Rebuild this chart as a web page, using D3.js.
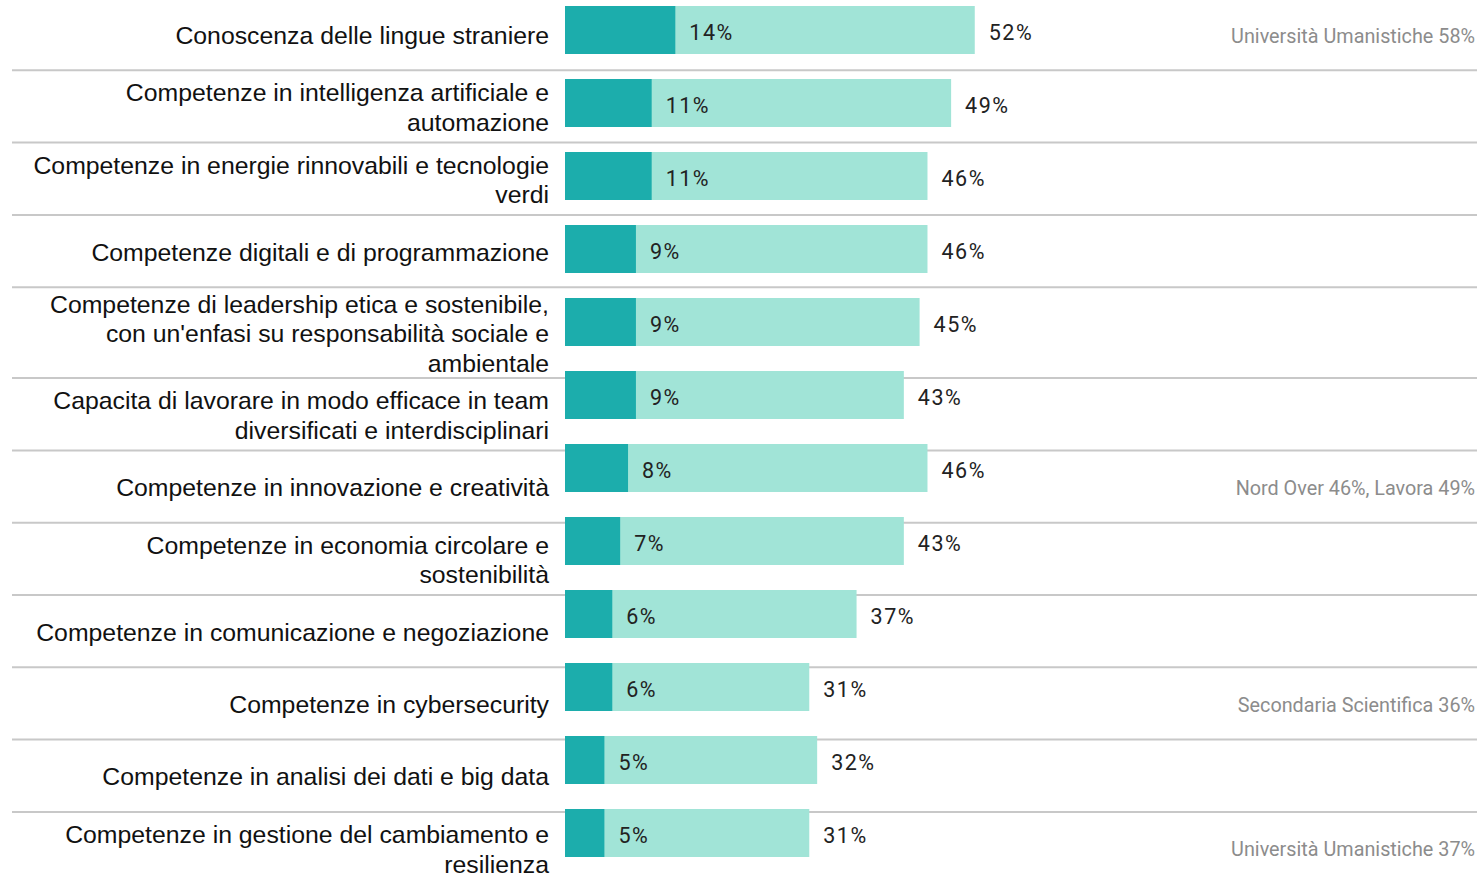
<!DOCTYPE html>
<html>
<head>
<meta charset="utf-8">
<script src="https://cdn.jsdelivr.net/npm/d3@7"></script>
<style>
  body { margin: 0; background: #fff; }
  svg { display: block; }
</style>
</head>
<body>
<div id="chart"></div>
<script>
var categories = [
  "Conoscenza delle lingue straniere",
  "Competenze in intelligenza artificiale e automazione",
  "Competenze in energie rinnovabili e tecnologie verdi",
  "Competenze digitali e di programmazione",
  "Competenze di leadership etica e sostenibile, con un'enfasi su responsabilità sociale e ambientale",
  "Capacita di lavorare in modo efficace in team diversificati e interdisciplinari",
  "Competenze in innovazione e creatività",
  "Competenze in economia circolare e sostenibilità",
  "Competenze in comunicazione e negoziazione",
  "Competenze in cybersecurity",
  "Competenze in analisi dei dati e big data",
  "Competenze in gestione del cambiamento e resilienza"
];
var firstValues = [14, 11, 11, 9, 9, 9, 8, 7, 6, 6, 5, 5];
var totalValues = [52, 49, 46, 46, 45, 43, 46, 43, 37, 31, 32, 31];
var noteRows = [0, 6, 9, 11];
var noteTexts = [
  "Università Umanistiche 58%",
  "Nord Over 46%, Lavora 49%",
  "Secondaria Scientifica 36%",
  "Università Umanistiche 37%"
];

var width = 1483, height = 880;
var darkColor = "#1cadac", lightColor = "#a1e4d7";
var labelFont = "'Liberation Sans', Arial, sans-serif";
var valueFont = "Roboto, 'Open Sans', sans-serif";
var labelSize = 24.8;

var svg = d3.select("#chart").append("svg")
  .attr("width", width)
  .attr("height", height);

var x = d3.scaleLinear().domain([0, 100]).range([565, 565 + 788]);
var y = d3.scaleBand()
  .domain(categories)
  .range([-6.5, 869.5])
  .paddingInner(25 / 73)
  .paddingOuter(12.5 / 73);

// wrap labels to a max width, measured with a hidden text node
var measure = svg.append("text")
  .attr("font-family", labelFont)
  .attr("font-size", labelSize)
  .attr("visibility", "hidden");

function wrap(str, maxWidth) {
  var words = str.split(" "), lines = [], line = "";
  words.forEach(function(w) {
    var test = line ? line + " " + w : w;
    measure.text(test);
    if (line && measure.node().getComputedTextLength() > maxWidth) {
      lines.push(line);
      line = w;
    } else {
      line = test;
    }
  });
  lines.push(line);
  return lines;
}

var wrapped = categories.map(function(c) { return wrap(c, 525); });
measure.remove();

// label rows (like table rows) - taller when the text needs 3 lines
var rowBands = [], rowY = -2;
wrapped.forEach(function(lines) {
  var h = lines.length > 2 ? lines.length * 30.3 : 72.3;
  rowBands.push({ y0: rowY, y1: rowY + h });
  rowY += h;
});

// separators
svg.append("g").selectAll("line")
  .data(rowBands.slice(0, -1))
  .enter().append("line")
  .attr("x1", 12)
  .attr("x2", 1477)
  .attr("y1", function(d) { return d.y1; })
  .attr("y2", function(d) { return d.y1; })
  .attr("stroke", "#c8c8c8")
  .attr("stroke-width", 2);

// bars
var bars = svg.append("g").selectAll("g")
  .data(categories)
  .enter().append("g");

bars.append("rect")
  .attr("x", x(0))
  .attr("y", function(d) { return y(d); })
  .attr("width", function(d, i) { return x(totalValues[i]) - x(0); })
  .attr("height", y.bandwidth())
  .attr("fill", lightColor);

bars.append("rect")
  .attr("x", x(0))
  .attr("y", function(d) { return y(d); })
  .attr("width", function(d, i) { return x(firstValues[i]) - x(0); })
  .attr("height", y.bandwidth())
  .attr("fill", darkColor);

bars.append("text")
  .attr("x", function(d, i) { return x(firstValues[i]) + 14; })
  .attr("y", function(d) { return y(d) + y.bandwidth() / 2 + 2; })
  .attr("dy", "0.35em")
  .attr("font-family", valueFont)
  .attr("font-size", 21.5)
  .attr("letter-spacing", 1.5)
  .attr("fill", "#222")
  .text(function(d, i) { return firstValues[i] + "%"; });

bars.append("text")
  .attr("x", function(d, i) { return x(totalValues[i]) + 14; })
  .attr("y", function(d) { return y(d) + y.bandwidth() / 2 + 2; })
  .attr("dy", "0.35em")
  .attr("font-family", valueFont)
  .attr("font-size", 21.5)
  .attr("letter-spacing", 1.5)
  .attr("fill", "#222")
  .text(function(d, i) { return totalValues[i] + "%"; });

// category labels
var labels = svg.append("g").selectAll("text")
  .data(wrapped)
  .enter().append("text")
  .attr("text-anchor", "end")
  .attr("font-family", labelFont)
  .attr("font-size", labelSize)
  .attr("fill", "#111");

labels.each(function(lines, i) {
  var mid = (rowBands[i].y0 + rowBands[i].y1) / 2 + 1;
  var first = mid - (lines.length - 1) * 29.6 / 2;
  d3.select(this).selectAll("tspan")
    .data(lines)
    .enter().append("tspan")
    .attr("x", 549)
    .attr("y", function(l, j) { return first + j * 29.6; })
    .attr("dy", "0.35em")
    .text(function(l) { return l; });
});

// side notes
svg.append("g").selectAll("text")
  .data(noteTexts)
  .enter().append("text")
  .attr("x", 1475)
  .attr("y", function(d, i) {
    var r = rowBands[noteRows[i]];
    return (r.y0 + r.y1) / 2 + 1.5;
  })
  .attr("dy", "0.35em")
  .attr("text-anchor", "end")
  .attr("font-family", valueFont)
  .attr("font-size", 19.8)
  .attr("fill", "#8c8c8c")
  .text(function(d) { return d; });
</script>
</body>
</html>
